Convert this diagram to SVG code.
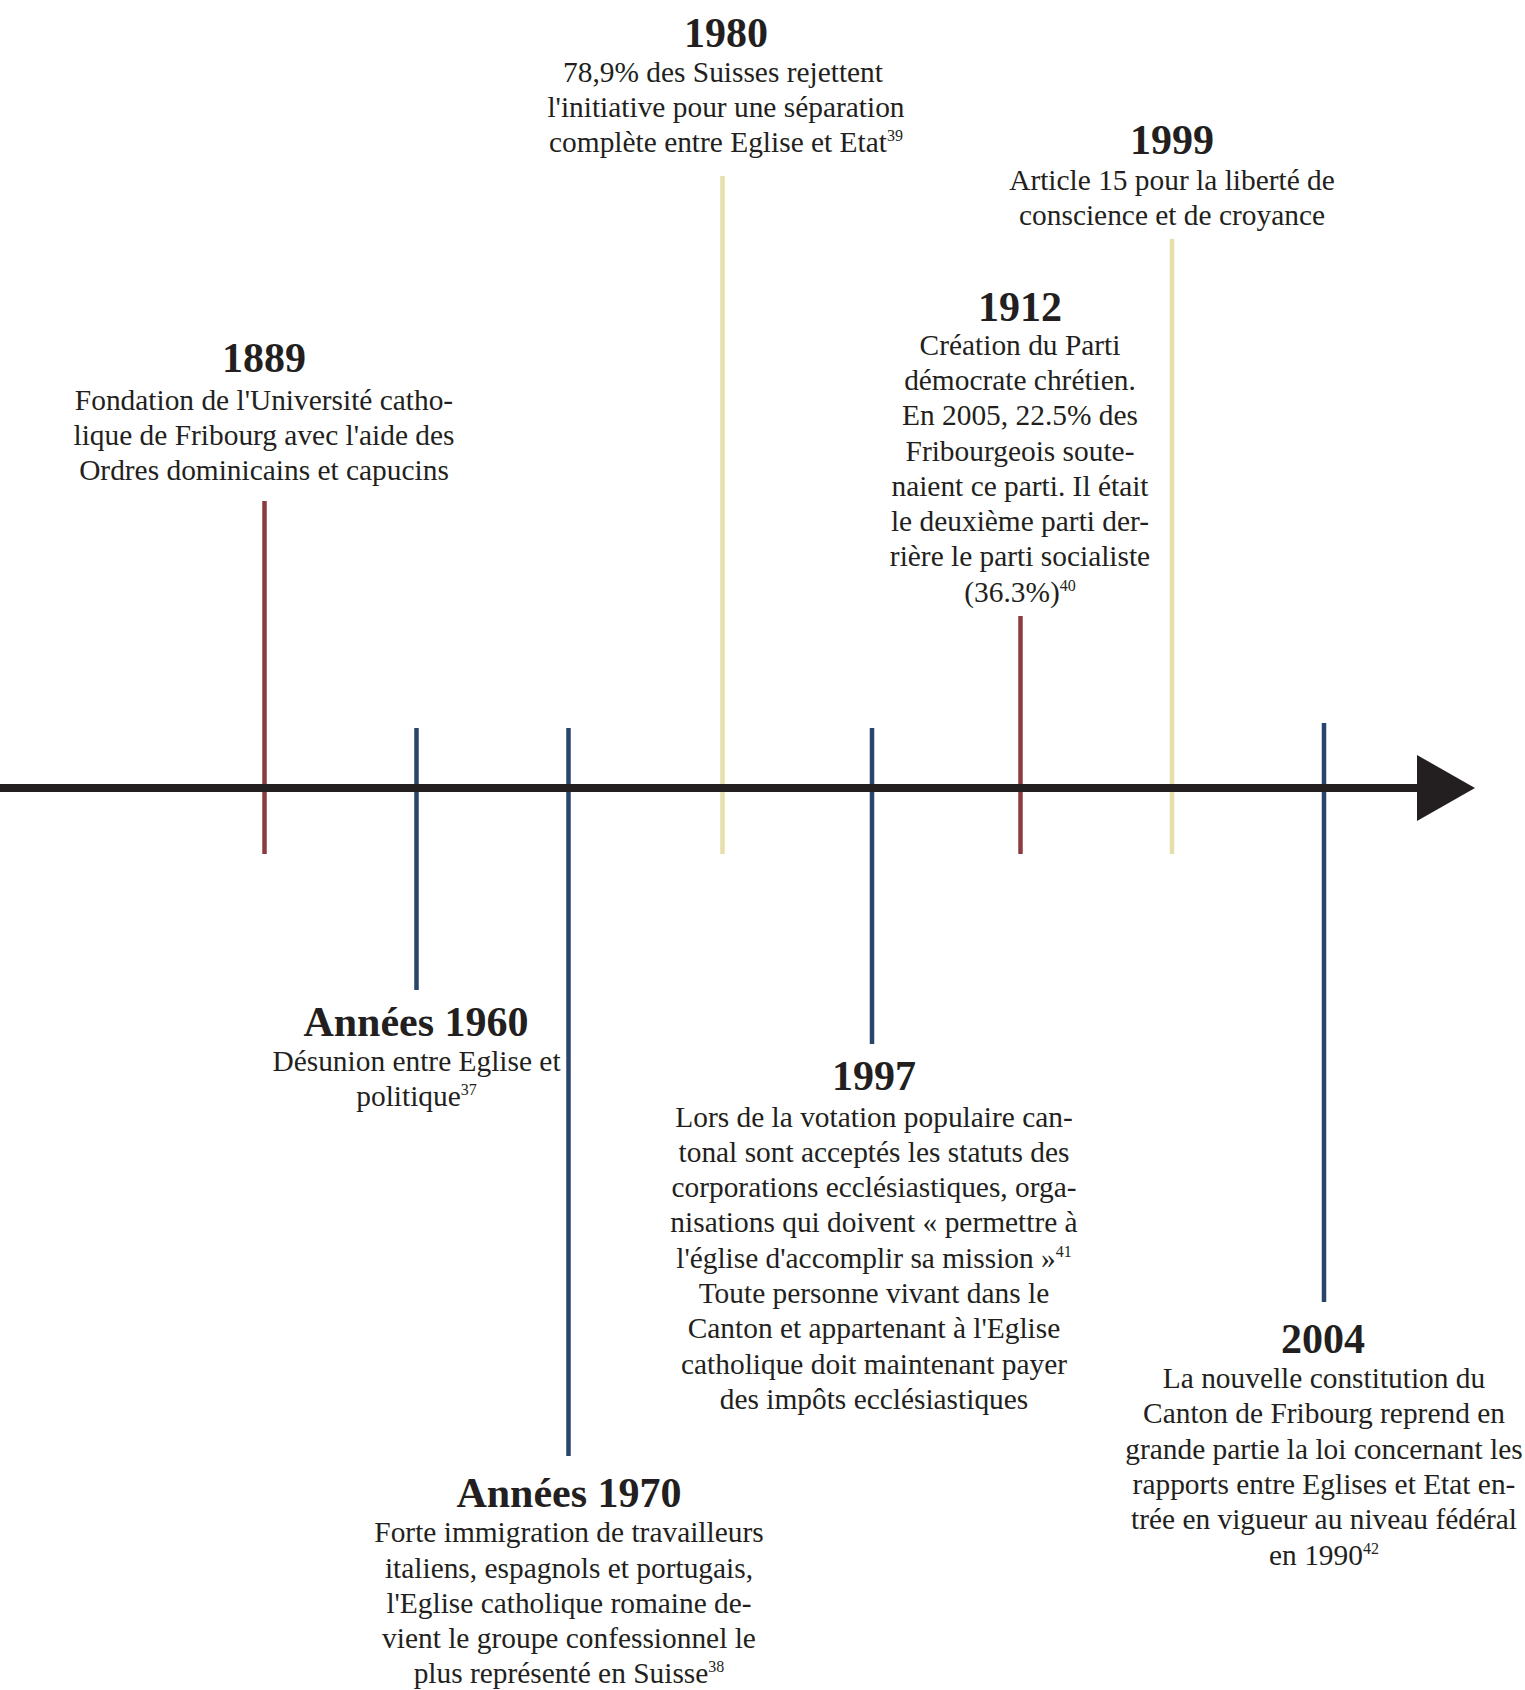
<svg xmlns="http://www.w3.org/2000/svg" width="1525" height="1690" viewBox="0 0 1525 1690">
<style>
.t{font-family:"Liberation Serif","Times New Roman",serif;font-weight:bold;font-size:42px;fill:#231f20;text-anchor:middle}
.b{font-family:"Liberation Serif","Times New Roman",serif;font-size:29.4px;fill:#231f20;text-anchor:middle}
.s{font-size:16px}
.red{stroke:#8c3b3f;stroke-width:4.5}
.blue{stroke:#2a456b;stroke-width:4.5}
.beige{stroke:#e6dfaa;stroke-width:4.5}
</style>
<rect width="1525" height="1690" fill="#ffffff"/>
<g id="connectors">
<line class="red" x1="264.5" y1="501" x2="264.5" y2="854"/>
<line class="blue" x1="416.5" y1="728" x2="416.5" y2="990"/>
<line class="blue" x1="568.5" y1="728" x2="568.5" y2="1456"/>
<line class="beige" x1="722.5" y1="176" x2="722.5" y2="854"/>
<line class="blue" x1="872" y1="728" x2="872" y2="1044"/>
<line class="red" x1="1020.5" y1="616" x2="1020.5" y2="854"/>
<line class="beige" x1="1172" y1="239" x2="1172" y2="854"/>
<line class="blue" x1="1324" y1="723" x2="1324" y2="1302"/>
<g id="axis">
<rect x="0" y="784" width="1418" height="8" fill="#231f20"/>
<polygon points="1417,755 1475,788 1417,821" fill="#231f20"/>
</g>
</g>
<g id="e1889">
<text class="t" x="264" y="372">1889</text>
<text class="b"><tspan x="264" y="409.5">Fondation de l'Université catho-</tspan><tspan x="264" y="444.5">lique de Fribourg avec l'aide des</tspan><tspan x="264" y="479.5">Ordres dominicains et capucins</tspan></text>
</g>
<g id="e1980">
<text class="t" x="726" y="46.5">1980</text>
<text class="b"><tspan x="723" y="82">78,9% des Suisses rejettent</tspan><tspan x="726" y="117">l'initiative pour une séparation</tspan><tspan x="726" y="152">complète entre Eglise et Etat<tspan class="s" dy="-11">39</tspan></tspan></text>
</g>
<g id="e1999">
<text class="t" x="1172" y="154">1999</text>
<text class="b"><tspan x="1172" y="189.5">Article 15 pour la liberté de</tspan><tspan x="1172" y="224.5">conscience et de croyance</tspan></text>
</g>
<g id="e1912">
<text class="t" x="1020" y="320.5">1912</text>
<text class="b"><tspan x="1020" y="354.6">Création du Parti</tspan><tspan x="1020" y="389.9">démocrate chrétien.</tspan><tspan x="1020" y="425.2">En 2005, 22.5% des</tspan><tspan x="1020" y="460.5">Fribourgeois soute-</tspan><tspan x="1020" y="495.8">naient ce parti. Il était</tspan><tspan x="1020" y="531.1">le deuxième parti der-</tspan><tspan x="1020" y="566.4">rière le parti socialiste</tspan><tspan x="1020" y="601.7">(36.3%)<tspan class="s" dy="-11">40</tspan></tspan></text>
</g>
<g id="e1960">
<text class="t" x="416" y="1035.5">Années 1960</text>
<text class="b"><tspan x="416.5" y="1070.8">Désunion entre Eglise et</tspan><tspan x="416.5" y="1106.1">politique<tspan class="s" dy="-11">37</tspan></tspan></text>
</g>
<g id="e1997">
<text class="t" x="874" y="1089.6">1997</text>
<text class="b"><tspan x="874" y="1126.5">Lors de la votation populaire can-</tspan><tspan x="874" y="1161.8">tonal sont acceptés les statuts des</tspan><tspan x="874" y="1197.1">corporations ecclésiastiques, orga-</tspan><tspan x="874" y="1232.4">nisations qui doivent « permettre à</tspan><tspan x="874" y="1267.7">l'église d'accomplir sa mission »<tspan class="s" dy="-11">41</tspan></tspan><tspan x="874" y="1303">Toute personne vivant dans le</tspan><tspan x="874" y="1338.3">Canton et appartenant à l'Eglise</tspan><tspan x="874" y="1373.6">catholique doit maintenant payer</tspan><tspan x="874" y="1408.9">des impôts ecclésiastiques</tspan></text>
</g>
<g id="e1970">
<text class="t" x="569" y="1506.6">Années 1970</text>
<text class="b"><tspan x="569" y="1542.2">Forte immigration de travailleurs</tspan><tspan x="569" y="1577.5">italiens, espagnols et portugais,</tspan><tspan x="569" y="1612.8">l'Eglise catholique romaine de-</tspan><tspan x="569" y="1648.1">vient le groupe confessionnel le</tspan><tspan x="569" y="1683.4">plus représenté en Suisse<tspan class="s" dy="-11">38</tspan></tspan></text>
</g>
<g id="e2004">
<text class="t" x="1323" y="1352.5">2004</text>
<text class="b"><tspan x="1324" y="1388">La nouvelle constitution du</tspan><tspan x="1324" y="1423.3">Canton de Fribourg reprend en</tspan><tspan x="1324" y="1458.6">grande partie la loi concernant les</tspan><tspan x="1324" y="1493.9">rapports entre Eglises et Etat en-</tspan><tspan x="1324" y="1529.2">trée en vigueur au niveau fédéral</tspan><tspan x="1324" y="1564.5">en 1990<tspan class="s" dy="-11">42</tspan></tspan></text>
</g>
</svg>
